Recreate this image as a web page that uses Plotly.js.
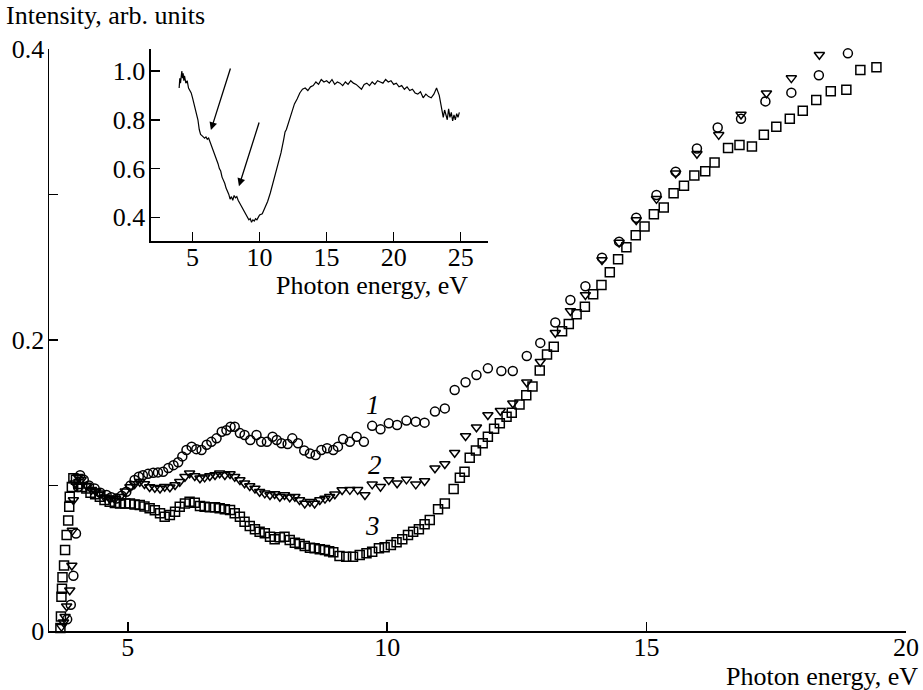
<!DOCTYPE html>
<html>
<head>
<meta charset="utf-8">
<script src="https://cdn.plot.ly/plotly-3.0.1.min.js"></script>
<style>html,body{margin:0;padding:0;background:#fff;}#chart{width:923px;height:690px;}</style>
</head>
<body>
<div id="chart"></div>
<script>
// Curve 1 (circles)
const x1 = [3.83,3.90,3.95,4.00,4.04,4.08,4.15,4.25,4.36,4.47,4.59,4.68,4.78,4.88,4.97,5.05,5.13,5.21,5.29,5.39,5.49,5.58,5.68,5.78,5.88,5.97,6.05,6.13,6.23,6.32,6.42,6.52,6.61,6.71,6.81,6.90,6.98,7.06,7.16,7.25,7.36,7.48,7.57,7.68,7.79,7.87,7.96,8.08,8.17,8.28,8.40,8.51,8.62,8.73,8.84,8.96,9.05,9.15,9.28,9.41,9.55,9.71,9.87,10.03,10.19,10.37,10.55,10.72,10.92,11.11,11.30,11.51,11.72,11.94,12.20,12.42,12.69,12.95,13.24,13.53,13.82,14.14,14.47,14.80,15.19,15.56,15.97,16.37,16.82,17.29,17.79,18.32,18.88];
const y1 = [0.008,0.018,0.038,0.067,0.099,0.107,0.104,0.100,0.098,0.095,0.0935,0.092,0.091,0.093,0.0957,0.100,0.1038,0.106,0.107,0.108,0.1088,0.109,0.1095,0.112,0.114,0.116,0.120,0.1244,0.1267,0.125,0.1244,0.128,0.130,0.1324,0.137,0.138,0.1404,0.1404,0.136,0.1347,0.1313,0.1347,0.130,0.130,0.1335,0.1313,0.129,0.1285,0.1324,0.129,0.124,0.122,0.121,0.1244,0.1256,0.1244,0.1267,0.132,0.130,0.1335,0.130,0.141,0.1386,0.1427,0.1416,0.1446,0.1439,0.1432,0.1508,0.153,0.1656,0.171,0.176,0.1805,0.1787,0.1787,0.189,0.198,0.212,0.2275,0.237,0.2566,0.2676,0.284,0.2997,0.3157,0.3316,0.346,0.352,0.364,0.370,0.382,0.397];

// Curve 2 (triangles)
const x2 = [3.72,3.76,3.79,3.82,3.88,3.92,3.93,3.95,3.98,4.04,4.10,4.20,4.30,4.38,4.46,4.55,4.65,4.75,4.85,4.95,5.04,5.13,5.23,5.32,5.42,5.52,5.62,5.71,5.81,5.91,6.00,6.10,6.19,6.29,6.39,6.48,6.58,6.68,6.77,6.87,6.97,7.06,7.16,7.25,7.35,7.45,7.54,7.64,7.74,7.83,7.93,8.02,8.12,8.22,8.31,8.41,8.51,8.60,8.70,8.80,8.89,8.99,9.13,9.28,9.43,9.57,9.71,9.87,10.03,10.19,10.37,10.55,10.72,10.92,11.11,11.30,11.51,11.72,11.94,12.18,12.42,12.69,12.95,13.24,13.53,13.82,14.14,14.47,14.80,15.19,15.56,15.97,16.39,16.82,17.31,17.79,18.33];
const y2 = [0.003,0.006,0.0098,0.017,0.028,0.045,0.069,0.090,0.1015,0.106,0.104,0.100,0.097,0.096,0.0946,0.092,0.091,0.091,0.0923,0.096,0.099,0.101,0.1026,0.101,0.099,0.0985,0.098,0.0992,0.0988,0.1003,0.1026,0.106,0.1084,0.1065,0.105,0.1056,0.1065,0.1072,0.1084,0.1072,0.1079,0.106,0.1038,0.1015,0.0997,0.098,0.0957,0.0946,0.0935,0.0941,0.0923,0.0935,0.0919,0.0923,0.090,0.0877,0.0889,0.0877,0.090,0.091,0.0923,0.094,0.0969,0.097,0.097,0.0935,0.1008,0.0992,0.1038,0.1015,0.1042,0.1008,0.1031,0.1118,0.1148,0.1225,0.134,0.140,0.1485,0.1514,0.1565,0.171,0.185,0.205,0.220,0.231,0.255,0.267,0.2825,0.297,0.3146,0.328,0.341,0.355,0.3696,0.380,0.396];

// Curve 3 (squares)
const x3 = [3.70,3.71,3.72,3.73,3.74,3.77,3.79,3.82,3.85,3.87,3.88,3.92,3.95,4.00,4.05,4.12,4.20,4.28,4.37,4.46,4.55,4.65,4.75,4.85,4.95,5.04,5.13,5.23,5.32,5.42,5.52,5.62,5.71,5.81,5.91,6.00,6.10,6.19,6.29,6.39,6.48,6.58,6.68,6.77,6.87,6.97,7.06,7.16,7.25,7.35,7.45,7.54,7.64,7.74,7.83,7.93,8.02,8.12,8.22,8.31,8.41,8.51,8.60,8.70,8.80,8.88,8.96,9.08,9.21,9.34,9.47,9.60,9.71,9.84,9.95,10.07,10.18,10.29,10.40,10.50,10.61,10.72,10.82,10.98,11.11,11.28,11.40,11.49,11.59,11.71,11.84,11.94,12.06,12.17,12.30,12.40,12.55,12.68,12.80,12.94,13.08,13.21,13.37,13.50,13.65,13.81,13.97,14.13,14.29,14.45,14.61,14.79,14.96,15.14,15.33,15.52,15.72,15.92,16.13,16.31,16.57,16.79,17.03,17.26,17.50,17.76,18.01,18.27,18.55,18.85,19.12,19.43];
const y3 = [0.002,0.010,0.0236,0.029,0.037,0.045,0.0557,0.066,0.076,0.0854,0.0923,0.099,0.105,0.104,0.101,0.099,0.098,0.095,0.094,0.0923,0.090,0.0889,0.088,0.0877,0.0877,0.0877,0.087,0.0866,0.0855,0.0843,0.083,0.0809,0.0786,0.0797,0.082,0.0854,0.0877,0.0889,0.0882,0.0859,0.0854,0.085,0.085,0.0843,0.0836,0.0832,0.0809,0.0786,0.0751,0.0722,0.0699,0.0682,0.0671,0.0648,0.063,0.0644,0.0648,0.0625,0.0607,0.0598,0.0584,0.0573,0.0568,0.0561,0.0557,0.0548,0.0541,0.0515,0.051,0.051,0.0522,0.0534,0.0545,0.0568,0.0575,0.0591,0.061,0.063,0.066,0.0682,0.070,0.0733,0.0763,0.0836,0.0877,0.0976,0.1054,0.1095,0.119,0.124,0.129,0.1335,0.139,0.1427,0.1473,0.150,0.1556,0.162,0.168,0.179,0.190,0.1954,0.206,0.211,0.2177,0.2229,0.2314,0.2378,0.2465,0.2555,0.2637,0.272,0.278,0.2864,0.291,0.3008,0.306,0.313,0.316,0.322,0.332,0.334,0.333,0.341,0.3466,0.352,0.3576,0.365,0.371,0.372,0.3856,0.3874];

// Inset spectrum
const xi = [4.00,4.05,4.10,4.15,4.20,4.25,4.30,4.35,4.40,4.50,4.60,4.70,4.80,4.90,5.00,5.10,5.20,5.30,5.40,5.50,5.60,5.70,5.80,5.90,6.00,6.10,6.20,6.30,6.40,6.50,6.60,6.70,6.80,6.90,7.00,7.10,7.20,7.30,7.40,7.50,7.60,7.70,7.80,7.90,8.00,8.10,8.20,8.30,8.40,8.50,8.60,8.70,8.80,8.90,9.00,9.10,9.20,9.30,9.40,9.50,9.60,9.70,9.80,9.90,10.00,10.20,10.40,10.60,10.80,11.00,11.20,11.40,11.60,11.80,11.90,12.00,12.20,12.40,12.60,12.80,13.00,13.20,13.40,13.60,13.80,14.00,14.20,14.40,14.60,14.80,15.00,15.20,15.40,15.60,15.80,16.00,16.20,16.40,16.60,16.80,17.00,17.20,17.40,17.60,17.80,18.00,18.20,18.40,18.60,18.80,19.00,19.20,19.40,19.60,19.80,20.00,20.20,20.40,20.60,20.80,21.00,21.20,21.40,21.60,21.80,22.00,22.20,22.40,22.60,22.80,23.00,23.20,23.40,23.50,23.60,23.70,23.80,23.90,24.00,24.10,24.20,24.30,24.40,24.50,24.60,24.70,24.80,24.90];
const yi = [0.93,0.97,0.95,0.99,1.00,0.97,0.99,0.96,0.98,0.95,0.96,0.93,0.92,0.91,0.89,0.87,0.85,0.83,0.80,0.76,0.74,0.735,0.73,0.725,0.73,0.72,0.725,0.71,0.70,0.685,0.67,0.65,0.635,0.62,0.60,0.59,0.565,0.555,0.54,0.52,0.51,0.495,0.475,0.485,0.47,0.49,0.48,0.485,0.47,0.46,0.455,0.44,0.43,0.425,0.41,0.405,0.39,0.395,0.38,0.39,0.385,0.395,0.39,0.40,0.41,0.415,0.44,0.465,0.50,0.54,0.58,0.62,0.665,0.72,0.75,0.76,0.795,0.83,0.865,0.885,0.91,0.925,0.93,0.92,0.935,0.94,0.955,0.945,0.965,0.955,0.96,0.95,0.965,0.945,0.955,0.95,0.94,0.955,0.945,0.96,0.95,0.945,0.935,0.925,0.945,0.95,0.94,0.955,0.945,0.96,0.955,0.95,0.965,0.955,0.96,0.945,0.95,0.935,0.94,0.925,0.935,0.92,0.925,0.91,0.905,0.915,0.89,0.905,0.895,0.89,0.905,0.93,0.90,0.87,0.85,0.81,0.84,0.82,0.80,0.845,0.81,0.83,0.795,0.82,0.80,0.825,0.81,0.83];

const mainXTicks = [5, 10, 15, 20];
const mainYTicks = [0, 0.1, 0.2, 0.3, 0.4];
const mainYLabels = ['0', '', '0.2', '', '0.4'];
const insetXTicks = [5, 10, 15, 20, 25];
const insetYTicks = [0.4, 0.6, 0.8, 1.0];
const insetYLabels = ['0.4', '0.6', '0.8', '1.0'];
const curveLabels = ['1', '2', '3'];
const labelX = [9.72, 9.76, 9.72];
const labelY = [0.155, 0.114, 0.072];

const FONT = 'Liberation Serif, Times New Roman, serif';
const FS = 26;
const mk = (sym) => ({symbol: sym, size: 9, color: 'black', line: {color: 'black', width: 1.5}});

const traces = [
  {x: x1, y: y1, mode: 'markers', type: 'scatter', marker: mk('circle-open'), name: '1', cliponaxis: false},
  {x: x2, y: y2, mode: 'markers', type: 'scatter', marker: mk('triangle-down-open'), name: '2', cliponaxis: false},
  {x: x3, y: y3, mode: 'markers', type: 'scatter', marker: mk('square-open'), name: '3', cliponaxis: false},
  {x: xi, y: yi, mode: 'lines', type: 'scatter', xaxis: 'x2', yaxis: 'y2', line: {color: 'black', width: 1.2}, name: 'inset'}
];

const axBase = {
  showline: true, linecolor: 'black', linewidth: 1.5, mirror: false,
  ticks: 'inside', ticklen: 9, tickwidth: 1.5, tickcolor: 'black',
  showgrid: false, zeroline: false,
  tickfont: {family: FONT, size: FS, color: 'black'}
};

const annotations = [
  {xref: 'paper', yref: 'paper', x: -0.052, y: 1.058, xanchor: 'left', yanchor: 'middle', showarrow: false,
   text: 'Intensity, arb. units', font: {family: FONT, size: FS, color: 'black'}},
  {xref: 'paper', yref: 'paper', x: 1.0163, y: -0.079, xanchor: 'right', yanchor: 'middle', showarrow: false,
   text: 'Photon energy, eV', font: {family: FONT, size: FS, color: 'black'}},
  {xref: 'paper', yref: 'paper', x: 0.4912, y: 0.594, xanchor: 'right', yanchor: 'middle', showarrow: false,
   text: 'Photon energy, eV', font: {family: FONT, size: FS, color: 'black'}},
  {xref: 'x2', yref: 'y2', axref: 'x2', ayref: 'y2', x: 6.37, y: 0.758, ax: 7.86, ay: 1.016, text: '',
   showarrow: true, arrowhead: 2, arrowsize: 1.2, arrowwidth: 1.3, arrowcolor: 'black'},
  {xref: 'x2', yref: 'y2', axref: 'x2', ayref: 'y2', x: 8.46, y: 0.528, ax: 10.0, ay: 0.795, text: '',
   showarrow: true, arrowhead: 2, arrowsize: 1.2, arrowwidth: 1.3, arrowcolor: 'black'}
];
for (let i = 0; i < curveLabels.length; i++) {
  annotations.push({xref: 'x', yref: 'y', x: labelX[i], y: labelY[i], showarrow: false,
    text: '<i>' + curveLabels[i] + '</i>', font: {family: FONT, size: 27, color: 'black'}});
}

const layout = {
  width: 923, height: 690,
  margin: {l: 49, r: 17, t: 49, b: 59},
  paper_bgcolor: 'white', plot_bgcolor: 'rgba(0,0,0,0)',
  showlegend: false,
  font: {family: FONT, color: 'black'},
  xaxis: Object.assign({}, axBase, {range: [3.48, 20], tickvals: mainXTicks, ticktext: mainXTicks.map(String), ticklabelstandoff: -8}),
  yaxis: Object.assign({}, axBase, {range: [0, 0.4], tickvals: mainYTicks, ticktext: mainYLabels, ticklabelstandoff: -2}),
  xaxis2: Object.assign({}, axBase, {domain: [0.119, 0.5123], anchor: 'y2', range: [1.9, 27.04],
    tickvals: insetXTicks, ticktext: insetXTicks.map(String), ticklabelstandoff: -8}),
  yaxis2: Object.assign({}, axBase, {domain: [0.670, 1.0], anchor: 'x2', range: [0.303, 1.09],
    tickvals: insetYTicks, ticktext: insetYLabels, ticklabelstandoff: -1}),
  annotations: annotations
};

Plotly.newPlot('chart', traces, layout, {displayModeBar: false, staticPlot: true});
</script>
</body>
</html>
